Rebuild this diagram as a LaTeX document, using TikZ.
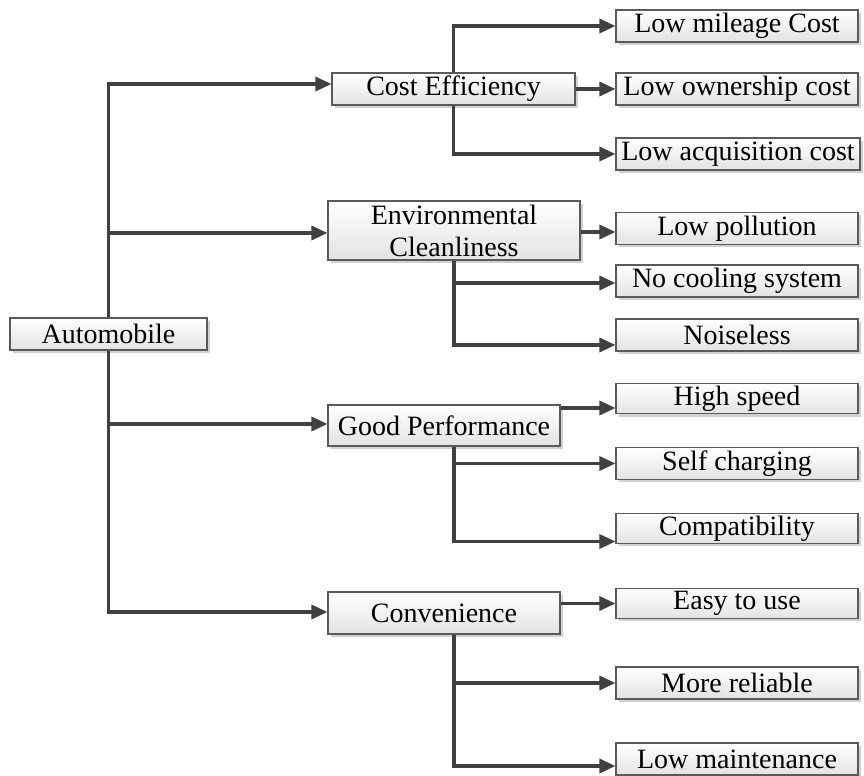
\documentclass[tikz,border=0pt]{standalone}
\usepackage{fontspec}
\setmainfont{Liberation Serif}
\usetikzlibrary{arrows.meta,shadows,calc}
\definecolor{edgegray}{HTML}{404040}
\definecolor{boxborder}{HTML}{5A5A5A}
\tikzset{
  box/.style={draw=boxborder, line width=0.8pt, top color=white, bottom color=black!11,
    inner sep=1pt, align=center, font=\fontsize{21}{24}\selectfont,
    drop shadow={shadow xshift=2.2pt, shadow yshift=-2.2pt, fill=black!18, opacity=1}},
  leaf/.style={box, minimum width=181.5pt, minimum height=24pt},
  conn/.style={draw=edgegray, line width=2.4pt, -{Triangle[length=12pt,width=10.5pt]}}
}
\begin{document}
\begin{tikzpicture}[x=0.75pt,y=-0.75pt]
\useasboundingbox (0,0) rectangle (864,775);
% main nodes
\node[box, minimum width=147.75pt, minimum height=24pt] (auto) at (108.5,334) {Automobile};
\node[box, minimum width=182.25pt, minimum height=24pt] (ce) at (453.5,89) {Cost Efficiency};
\node[box, minimum width=189pt, minimum height=44.25pt] (env) at (454,230.5) {Environmental\\Cleanliness};
\node[box, minimum width=174pt, minimum height=30.75pt] (gp) at (444,425.5) {Good Performance};
\node[box, minimum width=174pt, minimum height=31.5pt] (conv) at (444,613) {Convenience};
% leaves
\node[leaf] (l1) at (737,26) {Low mileage Cost};
\node[leaf] (l2) at (737,89) {Low ownership cost};
\node[leaf, minimum width=183pt] (l3) at (738,154) {Low acquisition cost};
\node[leaf] (l4) at (737,228.5) {Low pollution};
\node[leaf] (l5) at (737,281) {No cooling system};
\node[leaf] (l6) at (737,335) {Noiseless};
\node[leaf, minimum height=23pt] (l7) at (737,398.5) {High speed};
\node[leaf] (l8) at (737,463.5) {Self charging};
\node[leaf, minimum height=22pt] (l9) at (737,528.5) {Compatibility};
\node[leaf, minimum height=22pt] (l10) at (737,603.5) {Easy to use};
\node[leaf] (l11) at (737,683) {More reliable};
\node[leaf] (l12) at (737,759) {Low maintenance};
% trunk
\draw[conn] (auto.north) |- ($(ce.west)+(0,-5)$);
\draw[conn] (auto.north) |- ($(env.west)+(0,2.5)$);
\draw[conn] (auto.south) |- ($(gp.west)+(0,-1.5)$);
\draw[conn] (auto.south) |- ($(conv.west)+(0,-1)$);
% cost efficiency
\draw[conn] (ce.north) |- (l1.west);
\draw[conn] (ce.east) -- (l2.west);
\draw[conn] (ce.south) |- (l3.west);
% environmental
\draw[conn] ($(env.east)+(0,1.5)$) -- ($(l4.west)+(0,3.5)$);
\draw[conn] (env.south) |- ($(l5.west)+(0,2)$);
\draw[conn] (env.south) |- ($(l6.west)+(0,10)$);
% performance
\draw[conn] ($(gp.east)+(0,-17.5)$) -- ($(l7.west)+(0,9.5)$);
\draw[conn] ($(gp.south)+(10,0)$) |- (l8.west);
\draw[conn] ($(gp.south)+(10,0)$) |- ($(l9.west)+(0,13)$);
% convenience
\draw[conn] ($(conv.east)+(0,-9.5)$) -- (l10.west);
\draw[conn] ($(conv.south)+(10,0)$) |- (l11.west);
\draw[conn] ($(conv.south)+(10,0)$) |- ($(l12.west)+(0,7)$);
\end{tikzpicture}
\end{document}
